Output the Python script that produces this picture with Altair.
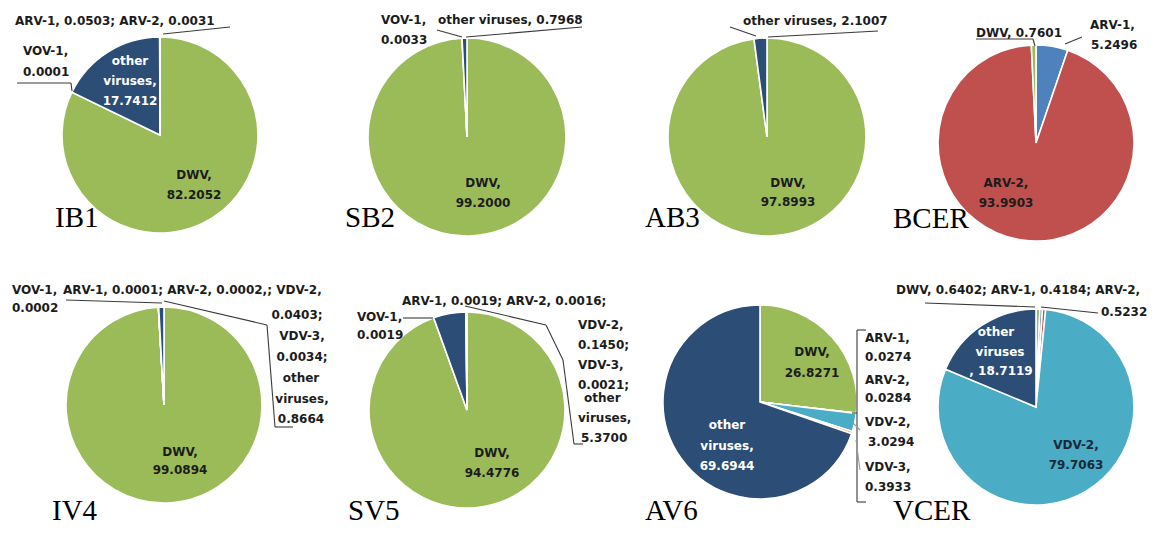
import altair as alt
import pandas as pd

# ---------------- data (percent of reads per virus) ----------------
IB1_virus = ["DWV", "VOV-1", "other viruses", "ARV-1", "ARV-2"]
IB1_value = [82.2052, 0.0001, 17.7412, 0.0503, 0.0031]

SB2_virus = ["DWV", "VOV-1", "other viruses"]
SB2_value = [99.2000, 0.0033, 0.7968]

AB3_virus = ["DWV", "other viruses"]
AB3_value = [97.8993, 2.1007]

BCER_virus = ["ARV-1", "ARV-2", "DWV"]
BCER_value = [5.2496, 93.9903, 0.7601]

IV4_virus = ["DWV", "VOV-1", "ARV-1", "ARV-2", "VDV-2", "VDV-3", "other viruses"]
IV4_value = [99.0894, 0.0002, 0.0001, 0.0002, 0.0403, 0.0034, 0.8664]

SV5_virus = ["DWV", "VOV-1", "other viruses", "ARV-1", "ARV-2", "VDV-2", "VDV-3"]
SV5_value = [94.4776, 0.0019, 5.3700, 0.0019, 0.0016, 0.1450, 0.0021]

AV6_virus = ["DWV", "ARV-1", "ARV-2", "VDV-2", "VDV-3", "other viruses"]
AV6_value = [26.8271, 0.0274, 0.0284, 3.0294, 0.3933, 69.6944]

VCER_virus = ["DWV", "ARV-1", "ARV-2", "VDV-2", "other viruses"]
VCER_value = [0.6402, 0.4184, 0.5232, 79.7063, 18.7119]

virus_domain = ["DWV", "other viruses", "ARV-1", "ARV-2", "VDV-2", "VDV-3", "VOV-1"]
virus_colors = ["#9BBB59", "#2C4D75", "#4F81BD", "#C0504D", "#4BACC6", "#F79646", "#8064A2"]

pies = [
    ("IB1", IB1_virus, IB1_value),
    ("SB2", SB2_virus, SB2_value),
    ("AB3", AB3_virus, AB3_value),
    ("BCER", BCER_virus, BCER_value),
    ("IV4", IV4_virus, IV4_value),
    ("SV5", SV5_virus, SV5_value),
    ("AV6", AV6_virus, AV6_value),
    ("VCER", VCER_virus, VCER_value),
]

# ---------------- layout (page pixels) ----------------
OFF = 8
centers = {
    "IB1": (160, 135, 98), "SB2": (467, 137, 99), "AB3": (767, 137, 99), "BCER": (1036, 143, 98),
    "IV4": (164, 405, 98), "SV5": (467, 410, 98), "AV6": (760, 402, 97), "VCER": (1036, 407, 98),
}
panel_pos = {
    "IB1": (55, 227), "SB2": (345, 227), "AB3": (645, 227), "BCER": (893, 228),
    "IV4": (52, 520), "SV5": (348, 520), "AV6": (645, 520), "VCER": (893, 520),
}

DARK = "#1c1c1c"
WHITE = "#ffffff"
L, C = "left", "center"

ann = [
    # IB1
    (15, 21, "ARV-1, 0.0503;  ARV-2, 0.0031", L, DARK),
    (23, 51, "VOV-1,", L, DARK), (23, 72, "0.0001", L, DARK),
    (130, 61, "other", C, WHITE), (130, 81, "viruses,", C, WHITE), (130, 101, "17.7412", C, WHITE),
    (194, 175, "DWV,", C, DARK), (194, 195, "82.2052", C, DARK),
    # SB2
    (381, 20, "VOV-1,", L, DARK), (381, 40, "0.0033", L, DARK),
    (438, 20, "other viruses, 0.7968", L, DARK),
    (483, 183, "DWV,", C, DARK), (483, 203, "99.2000", C, DARK),
    # AB3
    (743, 21, "other viruses, 2.1007", L, DARK),
    (788, 183, "DWV,", C, DARK), (788, 202, "97.8993", C, DARK),
    # BCER
    (976, 33, "DWV, 0.7601", L, DARK),
    (1090, 25, "ARV-1,", L, DARK), (1091, 45, "5.2496", L, DARK),
    (1006, 183, "ARV-2,", C, DARK), (1006, 203, "93.9903", C, DARK),
    # IV4
    (12, 290, "VOV-1,", L, DARK), (12, 308, "0.0002", L, DARK),
    (63, 290, "ARV-1, 0.0001; ARV-2, 0.0002,; VDV-2,", L, DARK),
    (297, 315, "0.0403;", C, DARK), (302, 336, "VDV-3,", C, DARK), (302, 357, "0.0034;", C, DARK),
    (301, 378, "other", C, DARK), (302, 399, "viruses,", C, DARK), (301, 419, "0.8664", C, DARK),
    (180, 452, "DWV,", C, DARK), (180, 470, "99.0894", C, DARK),
    # SV5
    (402, 301, "ARV-1, 0.0019; ARV-2, 0.0016;", L, DARK),
    (357, 317, "VOV-1,", L, DARK), (357, 335, "0.0019", L, DARK),
    (578, 325, "VDV-2,", L, DARK), (578, 345, "0.1450;", L, DARK), (578, 365, "VDV-3,", L, DARK),
    (578, 385, "0.0021;", L, DARK), (584, 398, "other", L, DARK), (578, 418, "viruses,", L, DARK),
    (581, 438, "5.3700", L, DARK),
    (492, 453, "DWV,", C, DARK), (492, 473, "94.4776", C, DARK),
    # AV6
    (812, 352, "DWV,", C, DARK), (812, 373, "26.8271", C, DARK),
    (727, 425, "other", C, WHITE), (727, 446, "viruses,", C, WHITE), (727, 466, "69.6944", C, WHITE),
    (865, 338, "ARV-1,", L, DARK), (865, 357, "0.0274", L, DARK),
    (865, 380, "ARV-2,", L, DARK), (865, 398, "0.0284", L, DARK),
    (865, 422, "VDV-2,", L, DARK), (868, 442, "3.0294", L, DARK),
    (865, 467, "VDV-3,", L, DARK), (865, 487, "0.3933", L, DARK),
    # VCER
    (896, 290, "DWV, 0.6402;  ARV-1, 0.4184;  ARV-2,", L, DARK),
    (1101, 312, "0.5232", L, DARK),
    (996, 332, "other", C, WHITE), (1000, 352, "viruses", C, WHITE), (1001, 371, ", 18.7119", C, WHITE),
    (1076, 445, "VDV-2,", C, "#1a2838"), (1076, 465, "79.7063", C, "#1a2838"),
]

LINE = "#3a3a3a"
GREY = "#9a9a9a"
leaders = [
    # IB1
    (163, 34, 230, 27, LINE), (17, 83, 71, 83, LINE), (71, 83, 72, 91, LINE),
    # SB2
    (437, 30, 462, 37, LINE), (466, 37, 582, 27, LINE),
    # AB3
    (730, 27, 756, 36, LINE), (768, 37, 878, 31, LINE),
    # BCER
    (976, 39, 1033, 39, LINE), (1033, 39, 1035, 46, LINE), (1065, 44, 1082, 37, LINE),
    # IV4
    (66, 300, 162, 303, LINE), (164, 301, 267, 325, LINE), (267, 325, 275, 427, LINE), (275, 427, 293, 427, LINE),
    # SV5
    (403, 318, 433, 318, LINE), (465, 306, 546, 325, LINE), (546, 325, 563, 360, LINE),
    (563, 360, 574, 444, LINE), (574, 444, 583, 444, LINE),
    # AV6
    (866, 330, 857, 330, LINE), (857, 330, 857, 502, LINE), (857, 502, 866, 502, LINE),
    (852, 413, 857, 413, LINE), (853, 423, 860, 430, GREY), (856, 440, 860, 470, GREY),
    # VCER
    (925, 303, 1035, 307, LINE), (1041, 307, 1098, 313, LINE),
]

# ---------------- chart ----------------
color_scale = alt.Scale(domain=virus_domain, range=virus_colors)

layers = []
for name, viruses, values in pies:
    df = pd.DataFrame({"virus": viruses, "value": values, "k": list(range(len(values)))})
    cx, cy, r = centers[name]
    layers.append(
        alt.Chart(df)
        .mark_arc(radius=r, stroke="white", strokeWidth=1.6)
        .encode(
            theta=alt.Theta("value:Q", stack=True),
            order=alt.Order("k:Q"),
            color=alt.Color("virus:N", scale=color_scale, legend=None),
            x=alt.value(cx - OFF),
            y=alt.value(cy - OFF),
        )
    )

rules_df = pd.DataFrame(
    [(x1 - OFF, y1 - OFF, x2 - OFF, y2 - OFF, c) for x1, y1, x2, y2, c in leaders],
    columns=["x", "y", "x2", "y2", "c"],
)
layers.append(
    alt.Chart(rules_df)
    .mark_rule(strokeWidth=1.1)
    .encode(
        x=alt.X("x:Q", scale=None), y=alt.Y("y:Q", scale=None),
        x2="x2:Q", y2="y2:Q",
        color=alt.Color("c:N", scale=None),
    )
)

ann_df = pd.DataFrame(
    [(x - OFF, y - OFF, t, a, c) for x, y, t, a, c in ann],
    columns=["x", "y", "text", "align", "c"],
)
for a in (L, C):
    layers.append(
        alt.Chart(ann_df[ann_df["align"] == a])
        .mark_text(align=a, baseline="middle", font="DejaVu Sans", fontSize=12, fontWeight="bold")
        .encode(
            x=alt.X("x:Q", scale=None), y=alt.Y("y:Q", scale=None),
            text="text:N", color=alt.Color("c:N", scale=None),
        )
    )

panel_df = pd.DataFrame(
    [(n, x - OFF, y - OFF) for n, (x, y) in panel_pos.items()], columns=["name", "x", "y"]
)
layers.append(
    alt.Chart(panel_df)
    .mark_text(align="left", baseline="alphabetic", font="Liberation Serif", fontSize=29, color="black")
    .encode(x=alt.X("x:Q", scale=None), y=alt.Y("y:Q", scale=None), text="name:N")
)

chart = (
    alt.layer(*layers)
    .resolve_scale(theta="independent")
    .properties(width=1142, height=517, padding=0, autosize=alt.AutoSizeParams(type="none"),
                background="white")
    .configure_view(stroke=None)
)

chart.save("out.html", embed_options={"renderer": "svg", "actions": False})
